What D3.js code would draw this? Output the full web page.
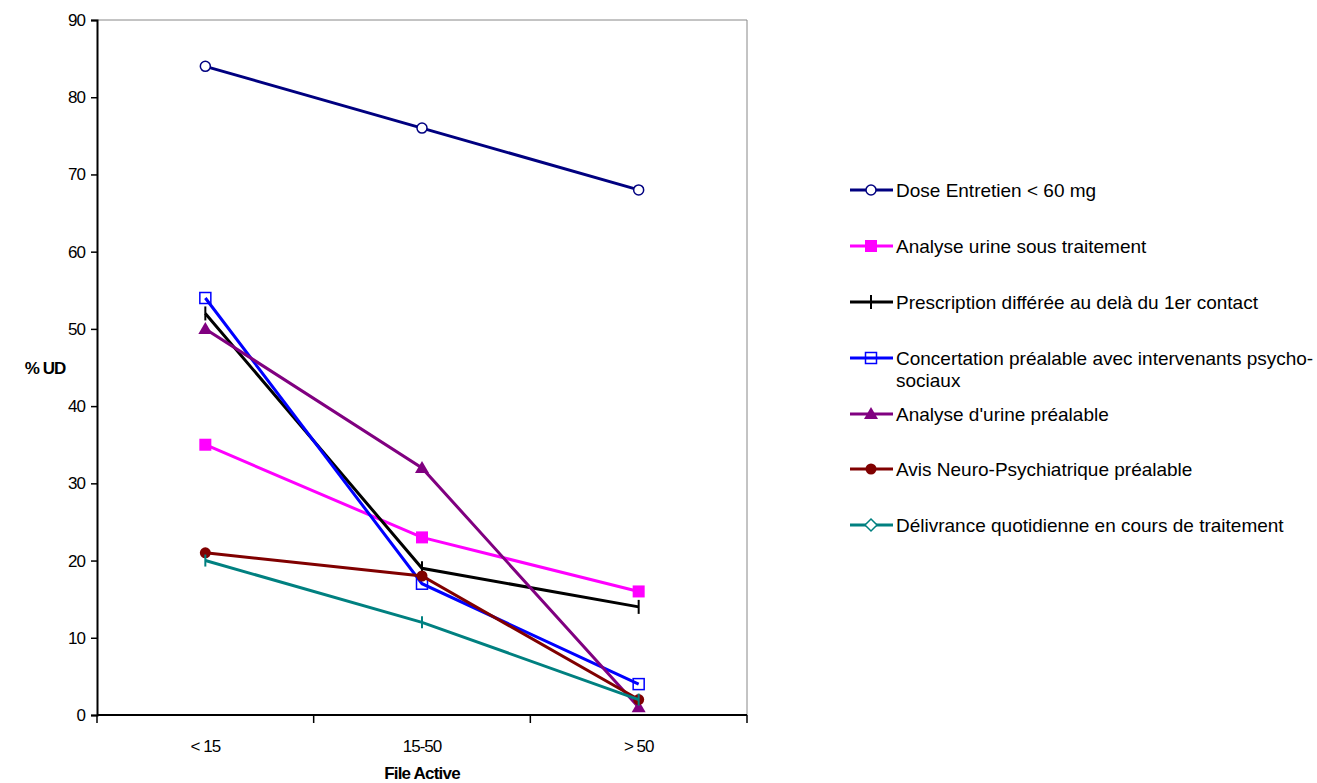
<!DOCTYPE html>
<html>
<head>
<meta charset="utf-8">
<script src="https://cdn.jsdelivr.net/npm/d3@7"></script>
<style>
  body { margin: 0; background: #fff; }
  text { font-family: "Liberation Sans", Arial, sans-serif; }
</style>
</head>
<body>
<div id="chart"></div>
<script>
// categories and series
var categories = ["< 15", "15-50", "> 50"];
var yTicks = [0, 10, 20, 30, 40, 50, 60, 70, 80, 90];

var seriesNames = [
  "Dose Entretien < 60 mg",
  "Analyse urine sous traitement",
  "Prescription différée au delà du 1er contact",
  "Concertation préalable avec intervenants psycho-sociaux",
  "Analyse d'urine préalable",
  "Avis Neuro-Psychiatrique préalable",
  "Délivrance quotidienne en cours de traitement"
];
var doseEntretien = [84, 76, 68];
var analyseUrineSous = [35, 23, 16];
var prescription = [52, 19, 14];
var concertation = [54, 17, 4];
var analyseUrinePrealable = [50, 32, 1];
var avisNeuro = [21, 18, 2];
var delivrance = [20, 12, 2];

var seriesValues = [doseEntretien, analyseUrineSous, prescription, concertation,
                    analyseUrinePrealable, avisNeuro, delivrance];
var colors = ["#000080", "#ff00ff", "#000000", "#0000ff", "#800080", "#800000", "#008080"];
var shapes = ["circle", "square", "plus", "squareOpen", "triangle", "dot", "diamond"];

var width = 1317, height = 783;
var plotLeft = 97, plotRight = 747, plotTop = 20, plotBottom = 715;

var svg = d3.select('#chart').append('svg')
    .attr('width', width)
    .attr('height', height);

var x = d3.scaleBand().domain(categories).range([plotLeft, plotRight]).padding(0);
var y = d3.scaleLinear().domain([0, 90]).range([plotBottom, plotTop]);

// frame (top and right in gray)
svg.append('path')
    .attr('d', `M${plotLeft},${plotTop}H${plotRight}V${plotBottom}`)
    .attr('fill', 'none')
    .attr('stroke', '#888')
    .attr('stroke-width', 1);

// y axis
var yAxis = svg.append('g')
    .attr('transform', `translate(${plotLeft},0)`)
    .call(d3.axisLeft(y).tickValues(yTicks).tickSize(6).tickPadding(6));
yAxis.select('.domain').attr('stroke', '#000').attr('stroke-width', 2);
yAxis.selectAll('.tick line').attr('stroke', '#000').attr('stroke-width', 1.5);
yAxis.selectAll('text')
    .style('font-size', '17px')
    .style('letter-spacing', '-1px')
    .attr('fill', '#000');

// x axis: ticks on the band edges
var xAxis = svg.append('g')
    .attr('transform', `translate(0,${plotBottom})`);
xAxis.append('line')
    .attr('x1', plotLeft).attr('x2', plotRight)
    .attr('stroke', '#000').attr('stroke-width', 2);
var edges = categories.map(function (c) { return x(c); }).concat([plotRight]);
xAxis.selectAll('.edge')
    .data(edges)
    .enter()
    .append('line')
    .attr('x1', function (d) { return d; })
    .attr('x2', function (d) { return d; })
    .attr('y1', 0).attr('y2', 8)
    .attr('stroke', '#000').attr('stroke-width', 1.5);
xAxis.selectAll('.lbl')
    .data(categories)
    .enter()
    .append('text')
    .attr('x', function (d) { return x(d) + x.bandwidth() / 2; })
    .attr('y', 37)
    .attr('text-anchor', 'middle')
    .style('font-size', '17px')
    .style('letter-spacing', '-1px')
    .text(function (d) { return d; });

// axis titles
svg.append('text')
    .attr('x', 422).attr('y', 779)
    .attr('text-anchor', 'middle')
    .style('font-size', '17px').style('font-weight', 'bold')
    .style('letter-spacing', '-0.8px')
    .text('File Active');
svg.append('text')
    .attr('x', 45).attr('y', 374)
    .attr('text-anchor', 'middle')
    .style('font-size', '17px').style('font-weight', 'bold')
    .style('letter-spacing', '-1px')
    .text('% UD');

function drawMarker(g, shape, color, cx, cy) {
  var s = 5;
  if (shape == "circle") {
    g.append('circle').attr('cx', cx).attr('cy', cy).attr('r', s)
      .attr('fill', '#fff').attr('stroke', color).attr('stroke-width', 1.5);
  } else if (shape == "dot") {
    g.append('circle').attr('cx', cx).attr('cy', cy).attr('r', s + 0.5)
      .attr('fill', color);
  } else if (shape == "square") {
    g.append('rect').attr('x', cx - s - 1).attr('y', cy - s - 1).attr('width', 2 * s + 2).attr('height', 2 * s + 2)
      .attr('fill', color);
  } else if (shape == "squareOpen") {
    g.append('rect').attr('x', cx - s - 0.5).attr('y', cy - s - 0.5).attr('width', 2 * s + 1).attr('height', 2 * s + 1)
      .attr('fill', 'none').attr('stroke', color).attr('stroke-width', 1.5);
  } else if (shape == "triangle") {
    g.append('path').attr('d', `M${cx},${cy - 7}L${cx + 7},${cy + 5}L${cx - 7},${cy + 5}Z`)
      .attr('fill', color);
  } else if (shape == "diamond") {
    g.append('path').attr('d', `M${cx},${cy - 6}L${cx + 6},${cy}L${cx},${cy + 6}L${cx - 6},${cy}Z`)
      .attr('fill', '#fff').attr('stroke', color).attr('stroke-width', 1.5);
  } else if (shape == "plus") {
    g.append('line').attr('x1', cx).attr('x2', cx).attr('y1', cy - 7).attr('y2', cy + 7)
      .attr('stroke', color).attr('stroke-width', 2);
  }
}

var line = d3.line()
    .x(function (d, i) { return x(categories[i]) + x.bandwidth() / 2; })
    .y(function (d) { return y(d); });

// draw series
seriesValues.forEach(function (vals, k) {
  var g = svg.append('g');
  g.append('path')
    .attr('d', line(vals))
    .attr('fill', 'none')
    .attr('stroke', colors[k])
    .attr('stroke-width', 3);
  vals.forEach(function (v, i) {
    var cx = x(categories[i]) + x.bandwidth() / 2;
    if (shapes[k] == "diamond") {
      // in the plot the diamond shows up as a small tick
      g.append('line').attr('x1', cx).attr('x2', cx).attr('y1', y(v) - 6).attr('y2', y(v) + 6)
        .attr('stroke', colors[k]).attr('stroke-width', 2);
    } else {
      drawMarker(g, shapes[k], colors[k], cx, y(v));
    }
  });
});

// legend
var legendY = [190, 246, 302, 358, 414, 469, 525];
var legend = svg.selectAll('.legend')
    .data(seriesNames)
    .enter()
    .append('g')
    .attr('class', 'legend')
    .attr('transform', function (d, i) { return `translate(850, ${legendY[i]})`; });

legend.append('line')
    .attr('x1', 0).attr('x2', 43)
    .attr('stroke', function (d, i) { return colors[i]; })
    .attr('stroke-width', 3);
legend.each(function (d, i) {
  drawMarker(d3.select(this), shapes[i], colors[i], 21, 0);
});
legend.append('text')
    .attr('x', 46)
    .attr('y', 7)
    .style('font-size', '19px')
    .each(function (d) {
      var t = d3.select(this);
      if (d.indexOf("psycho-") > 0) {
        var parts = d.split("psycho-");
        t.append('tspan').attr('x', 46).text(parts[0] + "psycho-");
        t.append('tspan').attr('x', 46).attr('dy', 22).text(parts[1]);
      } else {
        t.text(d);
      }
    });
</script>
</body>
</html>
